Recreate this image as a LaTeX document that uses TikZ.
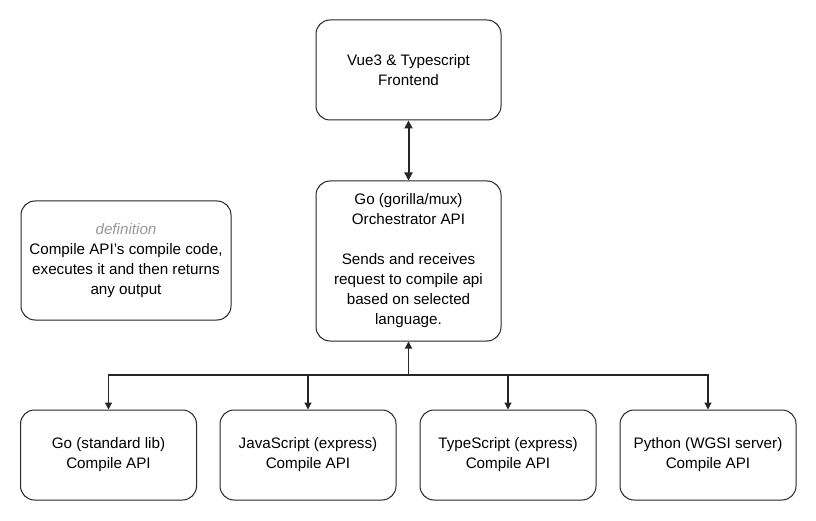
\documentclass[tikz,border=0pt]{standalone}
\usepackage{fontspec}
\setmainfont{Liberation Sans}
\usetikzlibrary{arrows.meta}

\tikzset{
  apibox/.style={draw=black!85, line width=1pt, rounded corners=14pt, align=center,
    font=\fontsize{15.2}{20}\selectfont},
  conn/.style={draw=black!85, line width=1.3pt, -{Triangle[length=7pt,width=7pt]}},
}

\begin{document}
\begin{tikzpicture}[x=1pt,y=-1pt]
\useasboundingbox[fill=white] (0,0) rectangle (816,521);

\node[apibox, minimum width=185pt, minimum height=100pt] (front) at (408.5,70) {Vue3 \& Typescript\\Frontend};
\node[apibox, minimum width=185pt, minimum height=160pt] (orch) at (408.5,261)
  {Go (gorilla/mux)\\Orchestrator API\\[20pt]Sends and receives\\request to compile api\\based on selected\\language.};
\node[apibox, minimum width=210pt, minimum height=119pt] (def) at (126,260.5)
  {\textcolor{black!40}{\itshape definition}\\Compile API's compile code,\\executes it and then returns\\any output};

\node[apibox, minimum width=176pt, minimum height=90pt] (goapi) at (108.5,455) {Go (standard lib)\\Compile API};
\node[apibox, minimum width=176pt, minimum height=90pt] (jsapi) at (308,455) {JavaScript (express)\\Compile API};
\node[apibox, minimum width=176pt, minimum height=90pt] (tsapi) at (508,455) {TypeScript (express)\\Compile API};
\node[apibox, minimum width=176pt, minimum height=90pt] (pyapi) at (708,455) {Python (WGSI server)\\Compile API};

% frontend <-> orchestrator
\draw[conn, line width=2pt, {Triangle[length=8pt,width=8pt]}-{Triangle[length=8pt,width=8pt]}] (front) -- (orch);

% bus to the compile apis
\coordinate (bus) at (408.5,375);
\draw[conn] (bus) -- (orch);
\draw[conn] (bus) -| (goapi);
\draw[conn] (bus) -| (jsapi);
\draw[conn] (bus) -| (tsapi);
\draw[conn] (bus) -| (pyapi);
\end{tikzpicture}
\end{document}
